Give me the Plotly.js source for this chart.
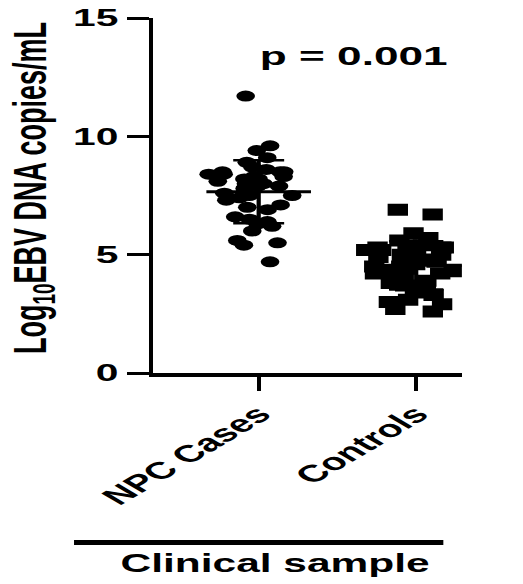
<!DOCTYPE html>
<html>
<head>
<meta charset="utf-8">
<script src="https://cdn.plot.ly/plotly-3.0.1.min.js"></script>
<style>
  html, body { margin: 0; padding: 0; background: #fff; overflow: hidden; }
  #wrap { width: 523px; height: 584px; overflow: hidden; }
  #plot { width: 308px; height: 584px; transform: scaleX(1.6981); transform-origin: 0 0; }
</style>
</head>
<body>
<div id="wrap"><div id="plot"></div></div>
<script>
// ---- data ----
const categories = ['NPC Cases', 'Controls'];
const npcValues = [11.7, 9.6, 9.4, 9.1, 8.9, 8.7, 8.6, 8.5, 8.5, 8.5, 8.4, 8.4, 8.3, 8.3,
  8.2, 8.2, 8.1, 8.0, 8.0, 7.9, 7.9, 7.8, 7.6, 7.5, 7.5, 7.4, 7.3, 7.1, 7.0, 6.9,
  6.6, 6.5, 6.4, 6.3, 6.2, 6.0, 5.6, 5.5, 5.4, 4.7];
const controlValues = [6.9, 6.7, 5.9, 5.7, 5.6, 5.4, 5.4, 5.3, 5.3, 5.3, 5.2, 5.2, 5.1,
  5.0, 5.0, 4.9, 4.9, 4.8, 4.8, 4.7, 4.6, 4.5, 4.5, 4.4, 4.3, 4.3, 4.2, 4.2, 4.0,
  3.9, 3.8, 3.7, 3.5, 3.4, 3.3, 3.1, 3.0, 2.9, 2.7, 2.6];
const yTickVals = [0, 5, 10, 15];
const yTickText = ['0', '5', '10', '15'];
const yTitle = 'Log<sub>10</sub>EBV DNA copies/mL';
const xTitle = 'Clinical sample';
const pLabel = 'p = 0.001';

function mean(a) { return a.reduce((s, v) => s + v, 0) / a.length; }
function sd(a) { const m = mean(a); return Math.sqrt(a.reduce((s, v) => s + (v - m) * (v - m), 0) / (a.length - 1)); }
const bold = s => '<b>' + s + '</b>';

const FONT = 'Liberation Sans, Arial, sans-serif';

function pointsTrace(name, vals, symbol, size) {
  return {
    type: 'box', name: name, y: vals,
    boxpoints: 'all', jitter: 0.85, pointpos: 0, width: 0.8,
    fillcolor: 'rgba(0,0,0,0)', line: { width: 0, color: 'rgba(0,0,0,0)' },
    marker: { color: '#000', symbol: symbol, size: size, line: { width: 0 } },
    hoverinfo: 'skip', showlegend: false
  };
}
function statTrace(name, vals, meanSize, sdHalf) {
  return {
    type: 'scatter', mode: 'markers', x: [name], y: [mean(vals)],
    marker: { symbol: 'line-ew', size: meanSize, color: '#000', line: { width: 3, color: '#000' } },
    error_y: { type: 'data', array: [sd(vals)], visible: true, width: sdHalf, thickness: 2.5, color: '#000' },
    hoverinfo: 'skip', showlegend: false
  };
}

const data = [
  pointsTrace(categories[0], npcValues, 'circle', 11),
  pointsTrace(categories[1], controlValues, 'square', 12),
  statTrace(categories[0], npcValues, 44, 15),
  statTrace(categories[1], controlValues, 40, 16)
];

const layout = {
  width: 308, height: 584,
  margin: { l: 89.5, r: 36, t: 18, b: 211 },
  paper_bgcolor: '#fff', plot_bgcolor: '#fff',
  font: { family: FONT, color: '#000' },
  showlegend: false,
  xaxis: {
    type: 'category', categoryorder: 'array', categoryarray: categories,
    tickvals: categories, ticktext: categories.map(bold),
    range: [-0.672, 1.29], showgrid: false, zeroline: false,
    showline: true, linewidth: 3.5, linecolor: '#000',
    ticks: 'outside', ticklen: 14, tickwidth: 2.5, tickcolor: '#000',
    tickangle: -45, tickfont: { family: FONT, size: 24, color: '#000' }
  },
  yaxis: {
    range: [0, 15], tickvals: yTickVals, ticktext: yTickText.map(bold),
    showgrid: false, zeroline: false,
    showline: true, linewidth: 2.5, linecolor: '#000',
    ticks: 'outside', ticklen: 13, tickwidth: 3, tickcolor: '#000',
    tickfont: { family: FONT, size: 24, color: '#000' }
  },
  annotations: [
    { text: yTitle, textangle: -90, xref: 'paper', yref: 'paper', x: 0, xshift: -70,
      y: 0.521, xanchor: 'center', yanchor: 'middle', showarrow: false,
      font: { family: FONT, size: 27, weight: 'bold', color: '#000' } },
    { text: bold(pLabel), xref: 'x', yref: 'y', x: 0.61, y: 13.4, xanchor: 'center', yanchor: 'middle',
      showarrow: false, font: { family: FONT, size: 26, color: '#000' } },
    { text: bold(xTitle), xref: 'paper', yref: 'paper', x: 0.397, y: -0.535, xanchor: 'center', yanchor: 'middle',
      showarrow: false, font: { family: FONT, size: 25, color: '#000' } }
  ],
  shapes: [
    { type: 'line', xref: 'paper', yref: 'paper', x0: -0.255, x1: 0.94, y0: -0.4775, y1: -0.4775,
      line: { color: '#000', width: 5 } }
  ]
};

Plotly.newPlot('plot', data, layout, { displayModeBar: false, staticPlot: true });
</script>
</body>
</html>
